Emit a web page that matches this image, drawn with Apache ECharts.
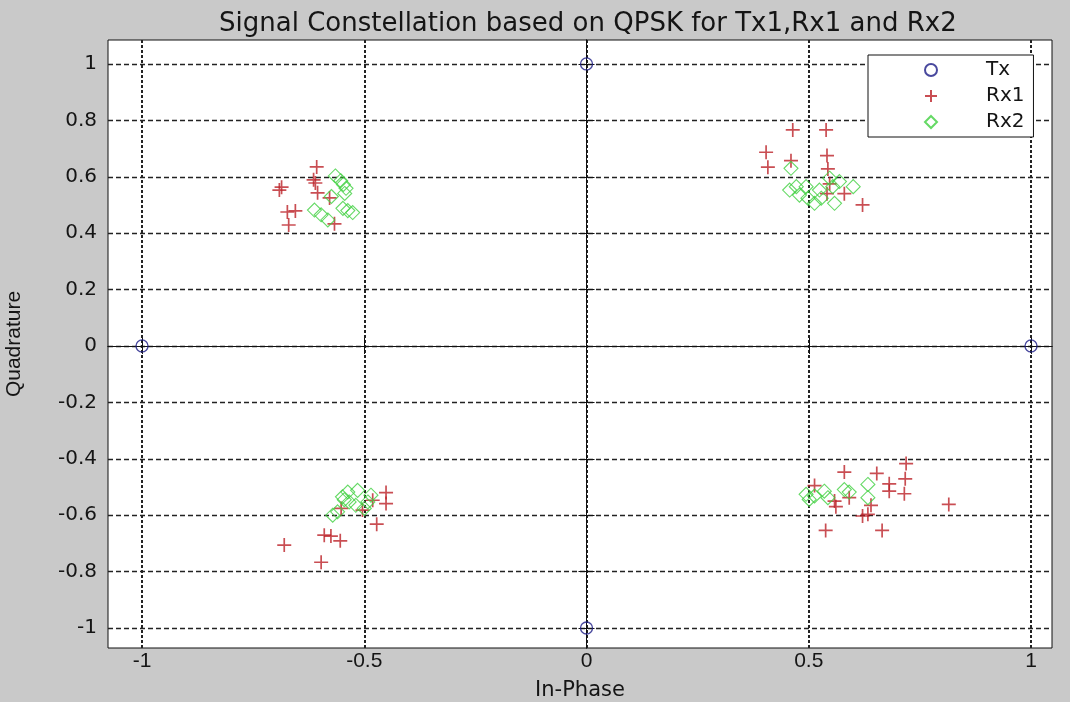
<!DOCTYPE html>
<html><head><meta charset="utf-8">
<script src="https://cdn.jsdelivr.net/npm/echarts@6/dist/echarts.min.js"></script>
<style>html,body{margin:0;padding:0;background:#c9c9c9}#c{width:1070px;height:702px}</style>
</head><body><div id="c"></div><script>
// Tick values
const xTicks = [-1, -0.5, 0, 0.5, 1];
const yTicks = [-1, -0.8, -0.6, -0.4, -0.2, 0, 0.2, 0.4, 0.6, 0.8, 1];

// Tx (ideal QPSK points)
const txX = [-1, 1, 0, 0];
const txY = [0, 0, 1, -1];

// Rx1 received points
const rx1X = [
  -0.607, -0.614, -0.610, -0.691, -0.686, -0.605, -0.578, -0.673, -0.655, -0.670, -0.567,
  0.464, 0.539, 0.404, 0.541, 0.408, 0.460, 0.543, 0.547, 0.541, 0.580, 0.621,
  -0.451, -0.451, -0.472, -0.481, -0.504, -0.552, -0.590, -0.575, -0.554, -0.680, -0.597,
  0.719, 0.580, 0.653, 0.717, 0.681, 0.681, 0.715, 0.815, 0.513, 0.558, 0.561, 0.591, 0.640, 0.621, 0.633, 0.538, 0.665
];
const rx1Y = [
  0.635, 0.589, 0.578, 0.553, 0.563, 0.543, 0.525, 0.475, 0.479, 0.429, 0.433,
  0.766, 0.766, 0.687, 0.675, 0.634, 0.657, 0.628, 0.575, 0.540, 0.540, 0.500,
  -0.520, -0.559, -0.632, -0.547, -0.582, -0.576, -0.671, -0.674, -0.691, -0.706, -0.767,
  -0.417, -0.447, -0.452, -0.471, -0.489, -0.515, -0.524, -0.562, -0.495, -0.550, -0.570, -0.538, -0.565, -0.603, -0.597, -0.654, -0.654
];

// Rx2 received points
const rx2X = [
  -0.565, -0.553, -0.547, -0.541, -0.544, -0.574, -0.612, -0.597, -0.582, -0.548, -0.537, -0.526,
  0.460, 0.457, 0.472, 0.479, 0.494, 0.498, 0.513, 0.524, 0.528, 0.547, 0.554, 0.558, 0.600, 0.569,
  -0.549, -0.537, -0.515, -0.534, -0.519, -0.571, -0.560, -0.500, -0.485, -0.492, -0.545,
  0.494, 0.513, 0.535, 0.543, 0.580, 0.591, 0.633, 0.633, 0.501
];
const rx2Y = [
  0.603, 0.586, 0.573, 0.559, 0.541, 0.530, 0.482, 0.465, 0.447, 0.488, 0.480, 0.473,
  0.630, 0.553, 0.565, 0.535, 0.565, 0.524, 0.506, 0.553, 0.524, 0.595, 0.565, 0.506, 0.565, 0.583,
  -0.535, -0.518, -0.512, -0.553, -0.565, -0.600, -0.588, -0.576, -0.529, -0.553, -0.545,
  -0.526, -0.532, -0.515, -0.538, -0.509, -0.518, -0.491, -0.538, -0.544
];

const zip = (xs, ys) => xs.map((x, i) => [x, ys[i]]);

const PLUS = 'path://M0,5 L10,5 M5,0 L5,10';
const DIAMOND = 'path://M5,0 L10,5 L5,10 L0,5 Z';
const labelFont = 'Liberation Sans';

const chart = echarts.init(document.getElementById('c'), null, {renderer: 'canvas'});
const baseX = {type: 'value', min: -1.0765, max: 1.0472};
const baseY = {type: 'value', min: -1.071, max: 1.085};
chart.setOption({
  backgroundColor: '#c9c9c9',
  animation: false,
  title: {
    text: 'Signal Constellation based on QPSK for Tx1,Rx1 and Rx2',
    left: 214, top: 6,
    textStyle: {fontFamily: 'DejaVu Sans', fontSize: 26, fontWeight: 'normal', color: '#151515'}
  },
  grid: {left: 108, right: 18, top: 40, bottom: 54, outerBoundsMode: 'none', containLabel: false,
         show: true, backgroundColor: '#ffffff', borderColor: '#111', borderWidth: 1},
  legend: {
    left: 868, top: 55, orient: 'vertical',
    backgroundColor: '#ffffff', borderColor: '#111', borderWidth: 1,
    padding: [5, 9, 5, 56],
    itemWidth: 100, itemHeight: 12, itemGap: 6,
    textStyle: {fontFamily: 'DejaVu Sans', fontSize: 20, color: '#151515'},
    data: ['Tx', 'Rx1', 'Rx2']
  },
  xAxis: [
    Object.assign({}, baseX, {
      position: 'bottom',
      name: 'In-Phase', nameLocation: 'middle', nameGap: 32,
      nameTextStyle: {fontFamily: 'DejaVu Sans', fontSize: 21, color: '#151515'},
      axisLine: {show: true, lineStyle: {color: '#111', width: 1}},
      axisTick: {show: true, inside: true, length: 8, customValues: xTicks, lineStyle: {color: '#111'}},
      axisLabel: {customValues: xTicks, fontFamily: labelFont, fontSize: 21, color: '#151515', margin: 3},
      splitLine: {show: true, lineStyle: {color: '#222', width: 2, type: [3, 2]}}
    }),
    Object.assign({}, baseX, {
      position: 'top',
      axisLine: {show: true, lineStyle: {color: '#111', width: 1}},
      axisTick: {show: true, inside: true, length: 8, customValues: xTicks, lineStyle: {color: '#111'}},
      axisLabel: {show: false},
      splitLine: {show: false}
    })
  ],
  yAxis: [
    Object.assign({}, baseY, {
      position: 'left',
      name: 'Quadrature', nameLocation: 'middle', nameGap: 83, nameRotate: 90,
      nameTextStyle: {fontFamily: labelFont, fontSize: 21, color: '#151515'},
      axisLine: {show: true, lineStyle: {color: '#111', width: 1}},
      axisTick: {show: true, inside: true, length: 8, customValues: yTicks, lineStyle: {color: '#111'}},
      axisLabel: {customValues: yTicks, fontFamily: 'DejaVu Sans', fontSize: 20, color: '#151515', margin: 11},
      splitLine: {show: true, lineStyle: {color: '#222', width: 1.3, type: [5, 3]}}
    }),
    Object.assign({}, baseY, {
      position: 'right',
      axisLine: {show: true, lineStyle: {color: '#111', width: 1}},
      axisTick: {show: true, inside: true, length: 8, customValues: yTicks, lineStyle: {color: '#111'}},
      axisLabel: {show: false},
      splitLine: {show: false}
    })
  ],
  series: [
    {
      name: 'Tx', type: 'scatter', data: zip(txX, txY), symbol: 'circle', symbolSize: 12,
      itemStyle: {color: 'rgba(0,0,0,0)', borderColor: '#1c1c86', borderWidth: 1.3}, z: 5
    },
    {
      name: 'Rx1', type: 'scatter', data: zip(rx1X, rx1Y), symbol: PLUS, symbolSize: 14,
      itemStyle: {color: 'rgba(0,0,0,0)', borderColor: '#bb2228', borderWidth: 1.7}, z: 3
    },
    {
      name: 'Rx2', type: 'scatter', data: zip(rx2X, rx2Y), symbol: DIAMOND, symbolSize: 14,
      itemStyle: {color: 'rgba(0,0,0,0)', borderColor: '#3fcf3f', borderWidth: 1.1}, z: 4
    }
  ]
});
</script></body></html>
